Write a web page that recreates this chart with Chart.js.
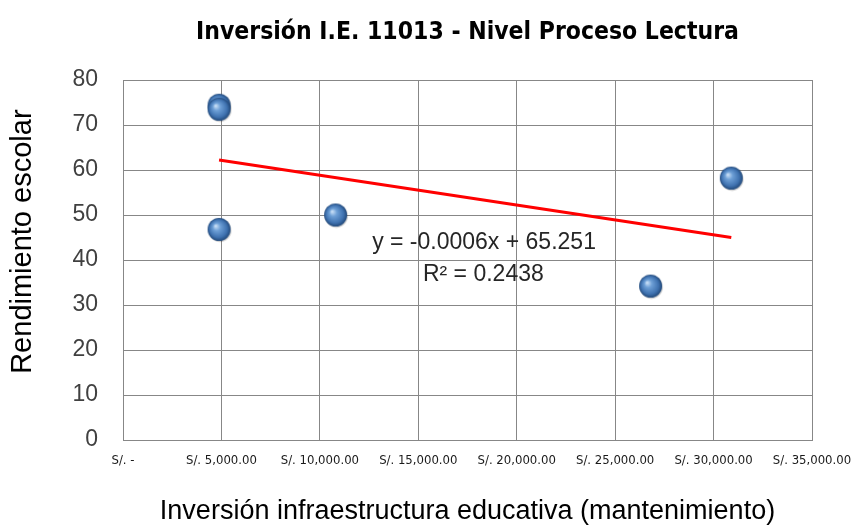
<!DOCTYPE html>
<html>
<head>
<meta charset="utf-8">
<script src="https://cdn.jsdelivr.net/npm/chart.js@4.4.1/dist/chart.umd.min.js"></script>
<style>
  html, body { margin: 0; padding: 0; background: #ffffff; }
  #wrap { width: 851px; height: 528px; position: relative; }
</style>
</head>
<body>
<div id="wrap"><canvas id="c"></canvas></div>
<script>
// ---- data ----
const investment = [4880, 4880, 4880, 10800, 26800, 30900];      // S/. (x)
const rendimiento = [74.4, 73.5, 46.8, 50.0, 34.2, 58.2];         // score (y)
const trendX = [4880, 30900];                                     // trend line ends (x)
const trendY = [62.2, 45.0];                                      // trend line ends (y)
const xTickValues = [0, 5000, 10000, 15000, 20000, 25000, 30000, 35000];
const xTickLabels = ['S/. -', 'S/. 5,000.00', 'S/. 10,000.00', 'S/. 15,000.00',
                     'S/. 20,000.00', 'S/. 25,000.00', 'S/. 30,000.00', 'S/. 35,000.00'];
const equationLines = ['y = -0.0006x + 65.251', 'R² = 0.2438'];
const chartTitle = 'Inversión I.E. 11013 - Nivel Proceso Lectura';
const xTitle = 'Inversión infraestructura educativa (mantenimiento)';
const yTitle = 'Rendimiento escolar';

// ---- sphere marker ----
function makeSphere(r) {
  const s = Math.ceil(r * 2 + 4);
  const cv = document.createElement('canvas');
  cv.width = s; cv.height = s;
  const g = cv.getContext('2d');
  const c = s / 2;
  g.beginPath();
  g.arc(c + 0.8, c + 1.2, r, 0, Math.PI * 2);
  g.fillStyle = 'rgba(0,0,0,0.18)';
  g.fill();
  const grad = g.createRadialGradient(c - r * 0.3, c - r * 0.3, r * 0.05, c, c, r);
  grad.addColorStop(0, '#c4dcf5');
  grad.addColorStop(0.3, '#6d9fd6');
  grad.addColorStop(0.75, '#3f72b0');
  grad.addColorStop(1, '#22497a');
  g.beginPath();
  g.arc(c, c, r, 0, Math.PI * 2);
  g.fillStyle = grad;
  g.fill();
  return cv;
}
const sphere = makeSphere(11.5);

const gridColor = '#878787';

const textPlugin = {
  id: 'extraText',
  afterDatasetsDraw(chart) {
    const a = chart.chartArea;
    const ctx = chart.ctx;
    const w = a.right - a.left, h = a.bottom - a.top;
    ctx.save();
    // trend equation
    ctx.fillStyle = '#262626';
    ctx.font = '23px "Liberation Sans", Arial, sans-serif';
    ctx.textAlign = 'center';
    ctx.textBaseline = 'middle';
    ctx.fillText(equationLines[0], a.left + w * 0.524, a.top + h * 0.453);
    ctx.fillText(equationLines[1], a.left + w * 0.523, a.top + h * 0.542);
    // vertical axis title
    ctx.fillStyle = '#000000';
    ctx.font = '29px "Liberation Sans", Arial, sans-serif';
    ctx.translate(23, a.top + h * 0.449);
    ctx.rotate(-Math.PI / 2);
    ctx.fillText(yTitle, 0, 0);
    ctx.restore();
  }
};

new Chart(document.getElementById('c'), {
  type: 'scatter',
  data: {
    datasets: [
      {
        type: 'line',
        label: 'Tendencia',
        data: trendX.map((x, i) => ({ x: x, y: trendY[i] })),
        borderColor: '#ff0000',
        borderWidth: 3,
        pointRadius: 0,
        fill: false,
        order: 2
      },
      {
        label: 'Rendimiento',
        data: investment.map((x, i) => ({ x: x, y: rendimiento[i] })),
        pointStyle: sphere,
        pointRadius: 12,
        order: 1
      }
    ]
  },
  options: {
    responsive: true,
    maintainAspectRatio: false,
    animation: false,
    layout: { padding: { left: 0, right: 39, top: 0, bottom: 0 } },
    plugins: {
      legend: { display: false },
      tooltip: { enabled: false },
      title: {
        display: true,
        text: chartTitle,
        fullSize: false,
        color: '#000000',
        font: { family: '"Liberation Sans Narrow", "DejaVu Sans Condensed", "Liberation Sans", sans-serif', size: 24.5, weight: 'bold' },
        padding: { top: 18, bottom: 32.6 }
      }
    },
    scales: {
      x: {
        type: 'linear',
        min: 0,
        max: 35000,
        afterBuildTicks(scale) { scale.ticks = xTickValues.map(v => ({ value: v })); },
        afterFit(scale) { scale.height = 88; scale.paddingLeft = 0; scale.paddingRight = 0; },
        ticks: {
          autoSkip: false,
          maxRotation: 0,
          minRotation: 0,
          padding: 13,
          color: '#1a1a1a',
          font: { family: '"Liberation Sans Narrow", "DejaVu Sans Condensed", "Liberation Sans", sans-serif', size: 13 },
          callback(value) { const i = xTickValues.indexOf(value); return i >= 0 ? xTickLabels[i] : ''; }
        },
        grid: { color: gridColor, lineWidth: 1, drawTicks: false },
        border: { color: gridColor, width: 1 },
        title: {
          display: true,
          text: xTitle,
          color: '#000000',
          font: { family: '"Liberation Sans", Arial, sans-serif', size: 27 },
          padding: { top: 0, bottom: 0 }
        }
      },
      y: {
        min: 0,
        max: 80,
        afterFit(scale) { scale.width = 123; },
        ticks: {
          stepSize: 10,
          padding: 25,
          color: '#404040',
          font: { family: '"Liberation Sans", Arial, sans-serif', size: 23 }
        },
        grid: { color: gridColor, lineWidth: 1, drawTicks: false },
        border: { color: gridColor, width: 1 },
        title: { display: false }
      }
    }
  },
  plugins: [textPlugin]
});
</script>
</body>
</html>
